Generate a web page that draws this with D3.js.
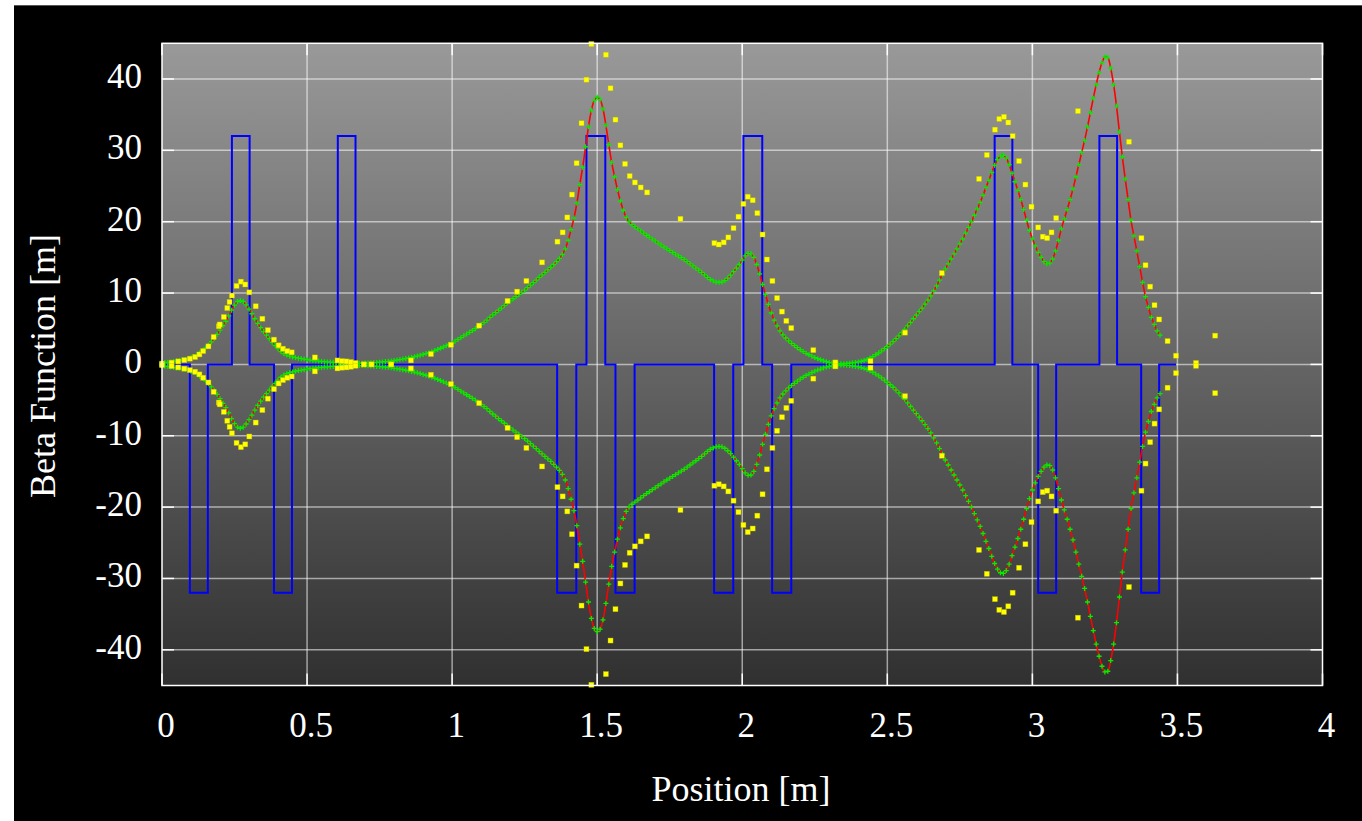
<!DOCTYPE html>
<html>
<head>
<meta charset="utf-8">
<title>Beta Function</title>
<script src="https://cdn.jsdelivr.net/npm/d3@7"></script>
<style>
    html, body { margin: 0; padding: 0; background: #fff; }
    svg { display: block; }
    text { font-family: "Liberation Serif", "Times New Roman", serif; fill: #fff; }
</style>
</head>
<body>
<div id="chart"></div>
<script>
/* * * * * * * * * * * * * * * * * * *
*          BETA FUNCTION DATA          *
* * * * * * * * * * * * * * * * * * */

// beta [m] of the lattice, one value every 0.01 m starting at s = 0
const betaStep = 0.01;
const betaValues = [
    0.2, 0.25, 0.3, 0.35, 0.42, 0.5, 0.55, 0.62, 0.7, 0.8,
    0.95, 1.1, 1.35, 1.65, 1.95, 2.3, 2.67, 3.15, 3.65, 4.2,
    4.8, 5.45, 6.05, 6.8, 7.6, 8.3, 8.8, 8.95, 8.8, 8.35,
    7.75, 7.1, 6.4, 5.75, 5.15, 4.6, 4.1, 3.6, 3.1, 2.65,
    2.2, 1.8, 1.5, 1.3, 1.15, 1.05, 0.95, 0.87, 0.8, 0.74,
    0.66, 0.6, 0.55, 0.5, 0.46, 0.42, 0.38, 0.35, 0.32, 0.29,
    0.27, 0.25, 0.23, 0.21, 0.19, 0.18, 0.17, 0.17, 0.17, 0.17,
    0.18, 0.2, 0.22, 0.25, 0.28, 0.31, 0.35, 0.39, 0.43, 0.48,
    0.55, 0.6, 0.67, 0.74, 0.82, 0.9, 0.99, 1.08, 1.18, 1.29,
    1.4, 1.52, 1.65, 1.79, 1.94, 2.1, 2.26, 2.44, 2.62, 2.81,
    3.0, 3.25, 3.5, 3.75, 4.0, 4.25, 4.5, 4.75, 5.0, 5.3,
    5.6, 5.9, 6.2, 6.6, 6.95, 7.25, 7.6, 7.9, 8.25, 8.6,
    8.9, 9.2, 9.5, 9.8, 10.1, 10.4, 10.75, 11.1, 11.45, 11.8,
    12.2, 12.55, 12.9, 13.25, 13.6, 14.0, 14.4, 14.85, 15.4, 16.2,
    17.4, 18.9, 20.5, 22.6, 25.2, 27.6, 30.5, 33.3, 35.6, 37.0,
    37.45, 37.1, 35.8, 33.5, 30.8, 28.3, 26.3, 24.5, 22.9, 21.6,
    20.6, 20.0, 19.6, 19.3, 19.0, 18.7, 18.4, 18.1, 17.85, 17.55,
    17.3, 17.0, 16.75, 16.45, 16.2, 15.95, 15.7, 15.45, 15.2, 14.95,
    14.7, 14.4, 14.1, 13.8, 13.5, 13.2, 12.9, 12.55, 12.2, 11.9,
    11.7, 11.55, 11.5, 11.55, 11.75, 12.1, 12.5, 13.0, 13.5, 14.0,
    14.6, 15.2, 15.55, 15.5, 15.0, 14.0, 12.7, 11.2, 9.8, 8.4,
    7.2, 6.2, 5.4, 4.7, 4.15, 3.7, 3.3, 2.95, 2.65, 2.35,
    2.05, 1.8, 1.55, 1.35, 1.15, 0.95, 0.8, 0.65, 0.5, 0.38,
    0.28, 0.2, 0.14, 0.1, 0.09, 0.1, 0.13, 0.17, 0.22, 0.28,
    0.35, 0.44, 0.55, 0.7, 0.9, 1.1, 1.35, 1.6, 1.9, 2.2,
    2.5, 2.85, 3.2, 3.6, 4.0, 4.45, 4.9, 5.4, 5.9, 6.4,
    6.9, 7.4, 7.9, 8.45, 9.0, 9.6, 10.3, 11.0, 11.8, 12.6,
    13.4, 14.1, 14.8, 15.5, 16.2, 16.9, 17.6, 18.4, 19.2, 20.0,
    20.9, 21.8, 22.7, 23.7, 24.8, 25.8, 26.9, 27.9, 28.7, 29.2,
    29.3, 28.9, 28.0, 26.8, 25.6, 24.4, 23.1, 21.7, 20.2, 18.8,
    17.6, 16.6, 15.7, 15.0, 14.4, 14.1, 14.2, 14.8, 15.9, 17.4,
    19.0, 20.4, 21.7, 23.1, 24.6, 26.3, 28.0, 29.7, 31.4, 33.3,
    35.3, 37.3, 39.2, 40.9, 42.3, 43.1, 43.0, 41.5, 39.2, 36.2,
    32.6, 29.1, 26.0, 23.1, 20.2, 18.0, 15.9, 13.7, 11.5, 9.5,
    8.0, 6.6, 5.6, 4.7, 4.1
];

// measured beta (yellow squares), positive side; drawn mirrored too
const measS = [
    0.000, 0.033, 0.056, 0.077, 0.096, 0.114, 0.129, 0.142, 0.160, 0.178,
    0.196, 0.199, 0.213, 0.225, 0.233, 0.241, 0.257, 0.272, 0.287, 0.301,
    0.323, 0.346, 0.365, 0.386, 0.402, 0.417, 0.432, 0.447, 0.527, 0.605,
    0.620, 0.636, 0.651, 0.667, 0.696, 0.722, 0.790, 0.858, 0.927, 0.996,
    1.093, 1.191, 1.224, 1.256, 1.310, 1.363, 1.381, 1.397, 1.413, 1.429,
    1.446, 1.463, 1.480, 1.530, 1.546, 1.563, 1.580, 1.596, 1.612, 1.630,
    1.650, 1.672, 1.787, 1.904, 1.919, 1.936, 1.952, 1.970, 1.987, 2.004,
    2.019, 2.036, 2.052, 2.070, 2.085, 2.104, 2.120, 2.137, 2.152, 2.169,
    2.245, 2.321, 2.442, 2.561, 2.688, 2.816, 2.843, 2.871, 2.886, 2.902,
    2.917, 2.932, 2.954, 2.976, 2.997, 3.020, 3.036, 3.051, 3.066, 3.082,
    3.157, 3.333, 3.376, 3.390, 3.406, 3.421, 3.437, 3.466, 3.495, 3.564,
    3.630
];
const measBeta = [
    0.1, 0.24, 0.42, 0.6, 0.8, 1.03, 1.4, 1.87, 2.53, 3.84,
    5.35, 5.6, 6.65, 7.9, 8.75, 9.65, 11.0, 11.6, 11.2, 10.1,
    8.15, 6.4, 4.8, 3.47, 2.67, 2.2, 1.87, 1.69, 0.98, 0.56,
    0.46, 0.42, 0.33, 0.19, 0.0, 0.0, 0.0, 0.56, 1.45, 2.75,
    5.43, 8.9, 10.2, 11.7, 14.3, 17.2, 18.5, 20.6, 23.8, 28.2,
    33.8, 39.9, 44.9, 43.4, 38.7, 34.3, 30.7, 28.1, 26.4, 25.5,
    24.8, 24.1, 20.4, 17.0, 16.8, 17.1, 17.8, 19.1, 20.7, 22.5,
    23.5, 23.0, 21.2, 18.2, 14.7, 11.7, 9.3, 7.4, 6.1, 5.1,
    2.0, 0.28, 0.47, 4.45, 12.8, 26.0, 29.35, 32.9, 34.4, 34.7,
    33.9, 32.0, 28.5, 25.2, 22.1, 19.2, 17.9, 17.7, 18.5, 20.5,
    35.5, 31.2, 17.7, 13.9, 10.9, 8.3, 6.3, 3.27, 1.22, 0.2,
    4.03
];

// quadrupoles: focusing (up) and defocusing (down), start / end [m]
const focStart = [0.241, 0.606, 1.463, 2.004, 2.870, 3.231];
const focEnd = [0.302, 0.667, 1.528, 2.069, 2.931, 3.292];
const defocStart = [0.096, 0.386, 1.362, 1.563, 1.903, 2.103, 3.020, 3.375];
const defocEnd = [0.158, 0.448, 1.428, 1.629, 1.969, 2.169, 3.082, 3.437];
const magnetHeight = 32;
const latticeEnd = 3.495;

const xTicks = [0, 0.5, 1, 1.5, 2, 2.5, 3, 3.5, 4];
const yTicks = [-40, -30, -20, -10, 0, 10, 20, 30, 40];
const xLabel = "Position [m]";
const yLabel = "Beta Function [m]";


class BetaPlot {
    constructor(parentElement) {
        this.parentElement = parentElement;
        this.initVis();
    }

    initVis() {
        const vis = this;

        vis.W = 1362;
        vis.H = 821;
        vis.plot = { left: 162, top: 43.3, right: 1322.5, bottom: 685.5 };

        vis.svg = d3.select(`#${vis.parentElement}`)
            .append("svg")
            .attr("width", vis.W)
            .attr("height", vis.H);

        // black page with a thin white margin top/left
        vis.svg.append("rect")
            .attr("x", 14).attr("y", 5)
            .attr("width", vis.W - 14).attr("height", vis.H - 5)
            .attr("fill", "#000");
        vis.svg.append("line")
            .attr("x1", 14).attr("x2", vis.W)
            .attr("y1", 5.5).attr("y2", 5.5)
            .attr("stroke", "#555").attr("stroke-width", 1);

        // gradient background of the plot
        const grad = vis.svg.append("defs").append("linearGradient")
            .attr("id", "bg").attr("x1", 0).attr("x2", 0).attr("y1", 0).attr("y2", 1);
        grad.append("stop").attr("offset", "0%").attr("stop-color", "#999999");
        grad.append("stop").attr("offset", "100%").attr("stop-color", "#303030");

        // Scales
        vis.x = d3.scaleLinear().domain([0, 4]).range([vis.plot.left, vis.plot.right]);
        vis.y = d3.scaleLinear().domain([-45, 45]).range([vis.plot.bottom, vis.plot.top]);

        const p = vis.plot;
        vis.svg.append("rect")
            .attr("x", p.left).attr("y", p.top)
            .attr("width", p.right - p.left).attr("height", p.bottom - p.top)
            .attr("fill", "url(#bg)");

        // Grid
        const grid = vis.svg.append("g")
            .attr("stroke", "rgba(255,255,255,0.55)")
            .attr("stroke-width", 1.5);
        grid.selectAll(".gx")
            .data(xTicks.filter(d => d > 0 && d < 4))
            .join("line")
            .attr("x1", d => vis.x(d)).attr("x2", d => vis.x(d))
            .attr("y1", p.top).attr("y2", p.bottom);
        grid.selectAll(".gy")
            .data(yTicks)
            .join("line")
            .attr("x1", p.left).attr("x2", p.right)
            .attr("y1", d => vis.y(d)).attr("y2", d => vis.y(d));

        // Tick marks on all four sides (inward)
        const ticks = vis.svg.append("g").attr("stroke", "#fff").attr("stroke-width", 1.5);
        yTicks.forEach(d => {
            ticks.append("line").attr("x1", p.left).attr("x2", p.left + 12)
                .attr("y1", vis.y(d)).attr("y2", vis.y(d));
            ticks.append("line").attr("x1", p.right - 12).attr("x2", p.right)
                .attr("y1", vis.y(d)).attr("y2", vis.y(d));
        });
        xTicks.forEach(d => {
            ticks.append("line").attr("x1", vis.x(d)).attr("x2", vis.x(d))
                .attr("y1", p.top).attr("y2", p.top + 12);
            ticks.append("line").attr("x1", vis.x(d)).attr("x2", vis.x(d))
                .attr("y1", p.bottom - 12).attr("y2", p.bottom);
        });

        // Magnet layout (blue)
        const mags = focStart.map((s, i) => ({ s0: s, s1: focEnd[i], h: magnetHeight }))
            .concat(defocStart.map((s, i) => ({ s0: s, s1: defocEnd[i], h: -magnetHeight })))
            .sort((a, b) => a.s0 - b.s0);
        const magPts = [[0, 0]];
        mags.forEach(m => {
            magPts.push([m.s0, 0], [m.s0, m.h], [m.s1, m.h], [m.s1, 0]);
        });
        magPts.push([latticeEnd, 0]);

        vis.svg.append("path")
            .datum(magPts)
            .attr("fill", "none")
            .attr("stroke", "#0000ff")
            .attr("stroke-width", 2)
            .attr("d", d3.line().x(d => vis.x(d[0])).y(d => vis.y(d[1])));

        // Beta function (red line) and tracked points (green +), both signs
        const beta = betaValues.map((v, i) => ({ s: i * betaStep, v: v }));
        [1, -1].forEach(sign => {
            vis.svg.append("path")
                .datum(beta)
                .attr("fill", "none")
                .attr("stroke", "#ff0000")
                .attr("stroke-width", 1.6)
                .attr("d", d3.line()
                    .curve(d3.curveCatmullRom)
                    .x(d => vis.x(d.s))
                    .y(d => vis.y(sign * d.v)));
        });

        const plus = "M-2.5,0H2.5M0,-2.5V2.5";
        [1, -1].forEach(sign => {
            vis.svg.append("g")
                .selectAll("path")
                .data(beta)
                .join("path")
                .attr("transform", d => `translate(${vis.x(d.s)},${vis.y(sign * d.v)})`)
                .attr("d", plus)
                .attr("stroke", "#00ee00")
                .attr("stroke-width", 1.3)
                .attr("fill", "none");
        });

        // Measured beta (yellow squares)
        const meas = measS.map((s, i) => ({ s: s, v: measBeta[i] }));
        [1, -1].forEach(sign => {
            vis.svg.append("g")
                .selectAll("rect")
                .data(meas)
                .join("rect")
                .attr("x", d => vis.x(d.s) - 2.5)
                .attr("y", d => vis.y(sign * d.v) - 2.5)
                .attr("width", 5)
                .attr("height", 5)
                .attr("fill", "#ffff00")
                .attr("stroke", "rgba(190,190,0,0.6)")
                .attr("stroke-width", 0.6);
        });

        // Frame
        vis.svg.append("rect")
            .attr("x", p.left).attr("y", p.top)
            .attr("width", p.right - p.left).attr("height", p.bottom - p.top)
            .attr("fill", "none")
            .attr("stroke", "#fff")
            .attr("stroke-width", 1.5);

        // Tick labels
        vis.svg.append("g")
            .selectAll("text")
            .data(xTicks)
            .join("text")
            .attr("x", d => vis.x(d) + 4)
            .attr("y", 737)
            .attr("text-anchor", "middle")
            .attr("font-size", 35)
            .text(d => String(d));

        vis.svg.append("g")
            .selectAll("text")
            .data(yTicks)
            .join("text")
            .attr("x", 142)
            .attr("y", d => vis.y(d) + 9)
            .attr("text-anchor", "end")
            .attr("font-size", 35)
            .text(d => String(d));

        // Axis titles
        vis.svg.append("text")
            .attr("x", 741)
            .attr("y", 801)
            .attr("text-anchor", "middle")
            .attr("font-size", 36)
            .text(xLabel);

        vis.svg.append("text")
            .attr("transform", "translate(55,366) rotate(-90)")
            .attr("text-anchor", "middle")
            .attr("font-size", 36)
            .text(yLabel);
    }
}

new BetaPlot("chart");
</script>
</body>
</html>
